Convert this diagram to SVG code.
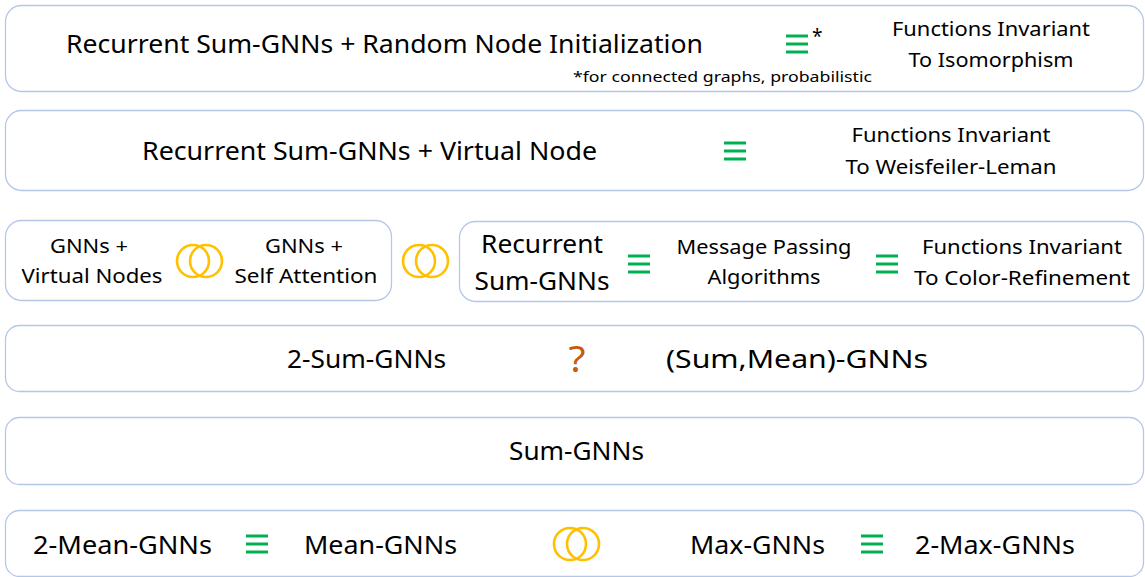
<svg xmlns="http://www.w3.org/2000/svg" xmlns:xlink="http://www.w3.org/1999/xlink" width="1145" height="577" viewBox="0 0 1145 577">
  <style>
    .box { fill: #ffffff; stroke: #b4c7e7; stroke-width: 1.3; }
    .t { font-family: "Noto Sans", "Open Sans", sans-serif; fill: #000000; }
    .big { font-size: 25px; }
    .mid { font-size: 19px; }
    .small { font-size: 15px; }
    .c { text-anchor: middle; }
    .eq { stroke: #00b050; stroke-width: 3; }
    .ring { fill: none; stroke: #ffc000; stroke-width: 2.6; }
  </style>
  <defs>
    <!-- equivalence sign: three green bars, 23 wide -->
    <g id="equiv">
      <line class="eq" x1="0" y1="-8" x2="22" y2="-8"/>
      <line class="eq" x1="0" y1="0" x2="22" y2="0"/>
      <line class="eq" x1="0" y1="8" x2="22" y2="8"/>
    </g>
    <!-- incomparability sign: two overlapping rings -->
    <g id="rings">
      <circle class="ring" cx="-6.5" cy="0" r="16"/>
      <circle class="ring" cx="6.5" cy="0" r="16"/>
    </g>
  </defs>

  <!-- row 1 -->
  <g id="row-rni">
    <rect class="box" x="5.5" y="5.5" width="1138" height="86" rx="16"/>
    <text class="t big" x="66" y="53" textLength="637" lengthAdjust="spacingAndGlyphs">Recurrent Sum-GNNs + Random Node Initialization</text>
    <use xlink:href="#equiv" x="786" y="44"/>
    <text class="t mid" x="812" y="43">*</text>
    <text class="t mid c" x="991" y="36" textLength="198" lengthAdjust="spacingAndGlyphs">Functions Invariant</text>
    <text class="t mid c" x="991" y="67" textLength="165" lengthAdjust="spacingAndGlyphs">To Isomorphism</text>
    <text class="t small" x="573" y="82" textLength="299" lengthAdjust="spacingAndGlyphs">*for connected graphs, probabilistic</text>
  </g>

  <!-- row 2 -->
  <g id="row-vn">
    <rect class="box" x="5.5" y="110.5" width="1138" height="80" rx="16"/>
    <text class="t big" x="142" y="160" textLength="455" lengthAdjust="spacingAndGlyphs">Recurrent Sum-GNNs + Virtual Node</text>
    <use xlink:href="#equiv" x="724" y="151"/>
    <text class="t mid c" x="951" y="142" textLength="199" lengthAdjust="spacingAndGlyphs">Functions Invariant</text>
    <text class="t mid c" x="951" y="174" textLength="211" lengthAdjust="spacingAndGlyphs">To Weisfeiler-Leman</text>
  </g>

  <!-- row 3, left -->
  <g id="row-vn-sa">
    <rect class="box" x="5.5" y="220.5" width="386" height="80" rx="16"/>
    <text class="t mid c" x="89" y="253" textLength="78" lengthAdjust="spacingAndGlyphs">GNNs +</text>
    <text class="t mid c" x="92" y="283" textLength="141" lengthAdjust="spacingAndGlyphs">Virtual Nodes</text>
    <use xlink:href="#rings" x="199.5" y="261"/>
    <text class="t mid c" x="304" y="253" textLength="78" lengthAdjust="spacingAndGlyphs">GNNs +</text>
    <text class="t mid c" x="306" y="283" textLength="143" lengthAdjust="spacingAndGlyphs">Self Attention</text>
  </g>

  <g id="rings-row3">
    <use xlink:href="#rings" x="425.5" y="261"/>
  </g>

  <!-- row 3, right -->
  <g id="row-recurrent">
    <rect class="box" x="459.5" y="221.5" width="684" height="80" rx="16"/>
    <text class="t big c" x="542" y="253" textLength="122" lengthAdjust="spacingAndGlyphs">Recurrent</text>
    <text class="t big c" x="542" y="290" textLength="135" lengthAdjust="spacingAndGlyphs">Sum-GNNs</text>
    <use xlink:href="#equiv" x="628" y="264"/>
    <text class="t mid c" x="764" y="254" textLength="175" lengthAdjust="spacingAndGlyphs">Message Passing</text>
    <text class="t mid c" x="764" y="284" textLength="113" lengthAdjust="spacingAndGlyphs">Algorithms</text>
    <use xlink:href="#equiv" x="876" y="264"/>
    <text class="t mid c" x="1022" y="254" textLength="200" lengthAdjust="spacingAndGlyphs">Functions Invariant</text>
    <text class="t mid c" x="1022" y="285" textLength="216" lengthAdjust="spacingAndGlyphs">To Color-Refinement</text>
  </g>

  <!-- row 4 -->
  <g id="row-2sum">
    <rect class="box" x="5.5" y="325.5" width="1138" height="66" rx="14"/>
    <text class="t big" x="287" y="368" textLength="159" lengthAdjust="spacingAndGlyphs">2-Sum-GNNs</text>
    <text class="t c" x="577" y="372" style="font-size:36px;fill:#c55a11" textLength="17" lengthAdjust="spacingAndGlyphs">?</text>
    <text class="t big" x="666" y="368" textLength="262" lengthAdjust="spacingAndGlyphs">(Sum,Mean)-GNNs</text>
  </g>

  <!-- row 5 -->
  <g id="row-sum">
    <rect class="box" x="5.5" y="417.5" width="1138" height="67" rx="14"/>
    <text class="t big" x="509" y="460" textLength="135" lengthAdjust="spacingAndGlyphs">Sum-GNNs</text>
  </g>

  <!-- row 6 -->
  <g id="row-mean-max">
    <rect class="box" x="5.5" y="510.5" width="1138" height="66" rx="14"/>
    <text class="t big" x="33" y="554" textLength="179" lengthAdjust="spacingAndGlyphs">2-Mean-GNNs</text>
    <use xlink:href="#equiv" x="246" y="544"/>
    <text class="t big" x="304" y="554" textLength="153" lengthAdjust="spacingAndGlyphs">Mean-GNNs</text>
    <use xlink:href="#rings" x="576.5" y="544"/>
    <text class="t big" x="690" y="554" textLength="135" lengthAdjust="spacingAndGlyphs">Max-GNNs</text>
    <use xlink:href="#equiv" x="861" y="544"/>
    <text class="t big" x="915" y="554" textLength="160" lengthAdjust="spacingAndGlyphs">2-Max-GNNs</text>
  </g>
</svg>
